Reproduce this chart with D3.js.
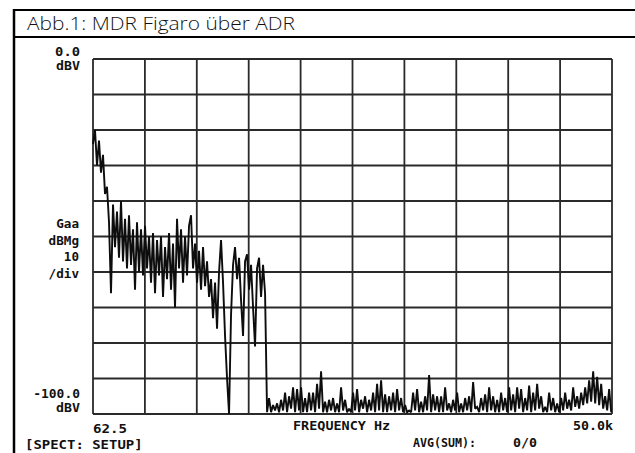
<!DOCTYPE html>
<html>
<head>
<meta charset="utf-8">
<script src="https://cdn.jsdelivr.net/npm/d3@7"></script>
<style>
  body { margin: 0; background: #fff; }
  svg { display: block; }
</style>
</head>
<body>
<svg id="chart"></svg>
<script>
// analyzer trace (dBV), one bin every ~192.5 Hz from 62.5 Hz
var freqStart = 62.5, freqEnd = 50000, binHz = 192.5;
var lowBandDb = [
  -24, -20, -30, -23, -32, -27, -38, -36, -46, -66,
  -41, -53, -43, -56, -40, -57, -45, -59, -44, -58,
  -48, -65, -46, -60, -48, -61, -47, -59, -50, -63,
  -49, -66, -51, -61, -50, -67, -53, -62, -49, -65,
  -52, -70, -45, -59, -48, -63, -50, -61, -47, -44,
  -59, -52, -63, -54, -65, -53, -64, -57, -67, -62,
  -73, -63, -76, -60, -51, -63, -78, -90, -100, -72,
  -58, -53, -62, -56, -68, -78, -57, -55, -65, -58,
  -70, -81, -59, -56, -67, -58, -66, -99.5
];
// noise floor: peaks and dips alternate
var floorPeakDb = [
  -95.5, -97.5, -97, -96, -94, -95, -92.5, -93, -92.5, -95.5,
  -94, -94, -91.5, -88, -96.5, -96, -95.5, -97, -92.5, -96,
  -98.5, -94, -93, -96, -95, -96, -94, -91.5, -90.5, -94.5,
  -95, -94, -93, -95.5, -97.5, -99, -94, -93, -96.5, -95,
  -89, -94.5, -95, -95, -92.5, -97, -96, -94, -97, -95.5,
  -95, -91, -98, -95.5, -94.5, -92.5, -95, -96, -94, -95.5,
  -92.5, -94.5, -92.5, -93, -95.5, -92, -94, -91.5, -95, -98,
  -94, -95.5, -97, -95.5, -94, -96, -92.5, -95, -94, -92.5,
  -90.5, -88, -89.5, -91.5, -95, -93
];
var floorDipDb = [
  -99.5, -99, -99.5, -99, -99.5, -98.5, -99.5, -99, -99.5, -99.5,
  -99, -99.5, -98.5, -99.5, -99.5, -99, -99.5, -99.5, -99, -99.5,
  -99.5, -99, -99.5, -98.5, -99.5, -99, -99.5, -99, -99.5, -99.5,
  -99, -99.5, -99, -99.5, -99.5, -99.5, -99, -99.5, -99.5, -99,
  -99.5, -99, -99.5, -99.5, -99, -99.5, -99, -99.5, -99.5, -99,
  -99.5, -98.5, -99.5, -99, -99.5, -99, -99.5, -99.5, -99, -99.5,
  -99, -99.5, -98.5, -99.5, -99, -99.5, -99, -98.5, -99.5, -99.5,
  -99, -99.5, -99.5, -99, -98.5, -99, -98, -98.5, -97.5, -97,
  -96.5, -97, -97.5, -98.5, -99, -99.5
];
var yLabelsTop = ["0.0", "dBV"];
var yLabelsMid = ["Gaa", "dBMg", "10", "/div"];
var yLabelsBottom = ["-100.0", "dBV"];
var titleText = "Abb.1: MDR Figaro über ADR";

var W = 635, H = 453;
var plot = {left: 93, right: 612, top: 59, bottom: 414};

var svg = d3.select("#chart").attr("width", W).attr("height", H);

var x = d3.scaleLinear().domain([freqStart, freqEnd]).range([plot.left, plot.right]);
var y = d3.scaleLinear().domain([-100, 0]).range([plot.bottom, plot.top]);
var div = d3.scaleLinear().domain([0, 10]).range([plot.left, plot.right]);

// frame + header
svg.append("line").attr("x1", 13).attr("x2", W).attr("y1", 10).attr("y2", 10)
  .attr("stroke", "#000").attr("stroke-width", 2);
svg.append("line").attr("x1", 13).attr("x2", W).attr("y1", 37).attr("y2", 37)
  .attr("stroke", "#000").attr("stroke-width", 2);
svg.append("line").attr("x1", 14).attr("x2", 14).attr("y1", 9).attr("y2", H)
  .attr("stroke", "#000").attr("stroke-width", 2.5);

svg.append("text").attr("x", 27).attr("y", 30)
  .attr("font-family", "Open Sans").attr("font-size", 18).attr("font-weight", 300)
  .attr("textLength", 268).attr("lengthAdjust", "spacingAndGlyphs")
  .attr("fill", "#111").text(titleText);

// grid
var grid = svg.append("g").attr("stroke", "#2a2a2a").attr("stroke-width", 1.8);
grid.selectAll("line.h").data(d3.range(-100, 1, 10)).enter().append("line")
  .attr("class", "h")
  .attr("x1", plot.left).attr("x2", plot.right)
  .attr("y1", function(d){ return y(d); }).attr("y2", function(d){ return y(d); });
grid.selectAll("line.v").data(d3.range(0, 11)).enter().append("line")
  .attr("class", "v")
  .attr("y1", plot.top).attr("y2", plot.bottom)
  .attr("x1", function(d){ return div(d); }).attr("x2", function(d){ return div(d); });

// trace
var traceDb = lowBandDb.slice();
for (var i = 0; i < floorPeakDb.length; i++) {
  traceDb.push(floorPeakDb[i]);
  traceDb.push(floorDipDb[i]);
}
var trace = traceDb.map(function(v, i){ return {f: freqStart + i * binHz, db: v}; });

var line = d3.line()
  .x(function(d){ return x(d.f); })
  .y(function(d){ return y(d.db); });

svg.append("path").datum(trace)
  .attr("fill", "none").attr("stroke", "#0d0d0d").attr("stroke-width", 1.9)
  .attr("stroke-linejoin", "miter").attr("stroke-miterlimit", 2)
  .attr("d", line);

// printer-style labels
function ptext(str, xx, yy, anchor, perChar, size) {
  svg.append("text").attr("x", xx).attr("y", yy)
    .attr("text-anchor", anchor || "start")
    .attr("font-family", "DejaVu Sans Mono").attr("font-size", size || 13)
    .attr("font-weight", "bold")
    .attr("textLength", str.length * (perChar || 7.8))
    .attr("lengthAdjust", "spacingAndGlyphs")
    .attr("fill", "#111").text(str);
}
ptext(yLabelsTop[0], 80, 56, "end", 8.3, 12);
ptext(yLabelsTop[1], 80, 70, "end", 8.0, 12);
var midBase = [228, 245, 261, 278];
yLabelsMid.forEach(function(s, i){ ptext(s, 79, midBase[i], "end", 7.6, 12); });
ptext(yLabelsBottom[0], 80, 398, "end", 7.8, 12);
ptext(yLabelsBottom[1], 80, 412, "end", 8.0, 12);

ptext("62.5", 93, 433, "start", 8.5);
ptext("FREQUENCY Hz", 293, 430, "start", 8.1);
ptext("50.0k", 613, 430, "end", 8.0);
ptext("[SPECT: SETUP]", 25, 449, "start", 8.4);
ptext("AVG(SUM):", 413, 447, "start", 7.0);
ptext("0/0", 513, 447, "start", 8.0);
</script>
</body>
</html>
